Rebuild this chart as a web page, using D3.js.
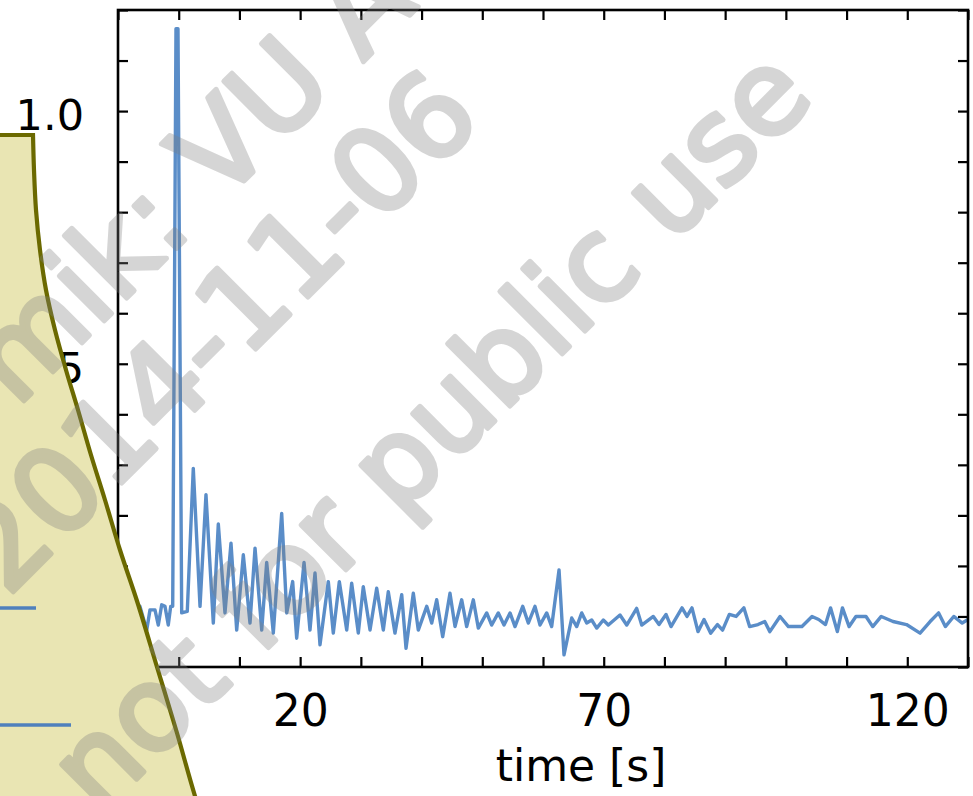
<!DOCTYPE html>
<html>
<head>
<meta charset="utf-8">
<script src="https://cdn.jsdelivr.net/npm/d3@7"></script>
<style>
  html, body { margin: 0; padding: 0; background: #fff; overflow: hidden; }
  svg { display: block; }
</style>
</head>
<body>
<svg id="chart" width="973" height="796"></svg>
<script>
// Recorded signal: time in seconds and normalised amplitude
const timeS = [
  -10.00, -9.30, -8.50, -7.80, -7.10, -6.38, -5.27, -4.73, -3.91, -3.36,
  -2.80, -2.26, -1.72, -1.32, -0.99, -0.45, -0.12, 0.49, 1.41, 2.40,
  3.51, 4.49, 5.70, 6.52, 7.62, 8.61, 9.55, 10.64, 11.74, 12.57,
  13.67, 14.49, 15.58, 16.96, 17.79, 18.77, 19.43, 20.64, 21.62, 22.45,
  23.27, 24.64, 25.46, 26.45, 27.67, 28.49, 29.58, 30.40, 31.51, 32.61,
  33.70, 34.52, 35.62, 36.73, 37.44, 38.64, 39.46, 40.85, 41.67, 42.49,
  43.48, 44.68, 45.51, 46.61, 47.43, 48.52, 49.35, 50.73, 51.55, 52.64,
  53.58, 54.57, 55.39, 56.66, 57.58, 58.68, 59.51, 60.61, 61.43, 62.64,
  63.46, 64.73, 65.55, 66.38, 67.20, 68.02, 68.85, 69.93, 70.76, 72.68,
  73.79, 75.43, 76.26, 78.17, 79.11, 80.26, 81.09, 82.90, 83.72, 84.54,
  85.53, 86.52, 87.62, 88.74, 89.58, 90.69, 91.81, 93.08, 94.03, 95.41,
  96.52, 97.36, 99.04, 100.42, 102.65, 104.31, 105.41, 106.53, 107.37, 108.48,
  109.32, 110.42, 111.54, 113.20, 114.31, 115.71, 117.65, 119.87, 122.10, 123.76,
  125.16, 126.27, 127.65, 129.05, 130.00
];
const signal = [
  0.010, -0.020, 0.018, -0.022, 0.015, 0.020, -0.027, 0.013, 0.013, -0.017,
  0.023, 0.020, -0.017, 0.020, 0.020, 1.163, 1.163, 0.007, 0.010, 0.293,
  0.020, 0.241, -0.013, 0.183, 0.007, 0.145, -0.027, 0.122, -0.013, 0.135,
  -0.027, 0.107, -0.033, 0.204, 0.007, 0.069, -0.043, 0.107, -0.027, 0.086,
  -0.056, 0.069, -0.033, 0.069, -0.027, 0.066, -0.033, 0.059, -0.027, 0.056,
  -0.027, 0.049, -0.033, 0.043, -0.063, 0.046, -0.027, 0.020, -0.013, 0.033,
  -0.040, 0.046, -0.020, 0.033, -0.020, 0.033, -0.023, 0.007, -0.017, 0.007,
  -0.017, 0.007, -0.020, 0.020, -0.013, 0.020, -0.017, 0.007, -0.020, 0.092,
  -0.076, -0.003, -0.020, 0.007, -0.013, -0.007, -0.023, -0.007, -0.017, 0.003,
  -0.017, 0.016, -0.017, 0.000, -0.016, 0.004, -0.020, 0.017, 0.000, 0.017,
  -0.030, -0.006, -0.033, -0.016, -0.027, 0.004, 0.000, 0.017, -0.020, -0.016,
  -0.010, -0.030, 0.000, -0.020, -0.020, 0.000, -0.006, -0.016, 0.017, -0.030,
  0.017, -0.020, 0.000, 0.000, -0.020, 0.000, -0.010, -0.016, -0.033, -0.010,
  0.007, -0.020, 0.000, -0.013, -0.006
];

const xTickValues = d3.range(-10, 131, 10);
const xTickLabels = [20, 70, 120];
const yTickValues = d3.range(-1, 13).map(i => i / 10);
const yTickLabels = [0.0, 0.5, 1.0];
const xTitle = "time [s]";
const watermarkLines = ["mik: VU A", "2014-11-06", "not for public use"];

const FONT = "DejaVu Sans";
const svg = d3.select("#chart");
svg.append("rect").attr("width", 973).attr("height", 796).attr("fill", "#ffffff");

const plot = { left: 118, right: 968, top: 10, bottom: 667 };
const x = d3.scaleLinear().domain([-10, 130]).range([plot.left, plot.right]);
const y = d3.scaleLinear().domain([-0.1, 1.2]).range([plot.bottom, plot.top]);

// clip for the trace
svg.append("clipPath").attr("id", "plotClip")
  .append("rect")
  .attr("x", plot.left).attr("y", plot.top)
  .attr("width", plot.right - plot.left).attr("height", plot.bottom - plot.top);

const points = timeS.map((t, i) => [t, signal[i]]);
const line = d3.line().x(d => x(d[0])).y(d => y(d[1]));

svg.append("path")
  .datum(points)
  .attr("clip-path", "url(#plotClip)")
  .attr("d", line)
  .attr("fill", "none")
  .attr("stroke", "#5a8dc8")
  .attr("stroke-width", 3.4)
  .attr("stroke-linejoin", "round");

// axes: ticks point into the plot on all four sides
const tickLen = 10;
const fmtY = d3.format(".1f");
const isXLabel = v => xTickLabels.some(l => Math.abs(l - v) < 1e-9);
const isYLabel = v => yTickLabels.some(l => Math.abs(l - v) < 1e-9);

const axisStyle = g => {
  g.select(".domain").remove();
  g.selectAll(".tick line").attr("stroke", "#000").attr("stroke-width", 2.2);
  g.selectAll("text").attr("font-family", FONT).attr("fill", "#000");
};

svg.append("g")
  .attr("transform", `translate(0,${plot.bottom})`)
  .call(d3.axisBottom(x).tickValues(xTickValues).tickSize(-tickLen).tickPadding(28)
        .tickFormat(v => isXLabel(v) ? String(v) : ""))
  .call(axisStyle)
  .call(g => g.selectAll("text").attr("font-size", 44).attr("dy", "0.71em"));

svg.append("g")
  .attr("transform", `translate(0,${plot.top})`)
  .call(d3.axisTop(x).tickValues(xTickValues).tickSize(-tickLen).tickFormat(""))
  .call(axisStyle);

svg.append("g")
  .attr("transform", `translate(${plot.left},0)`)
  .call(d3.axisLeft(y).tickValues(yTickValues).tickSize(-tickLen).tickPadding(34)
        .tickFormat(v => isYLabel(v) ? fmtY(v) : ""))
  .call(axisStyle)
  .call(g => g.selectAll("text").attr("font-size", 43).attr("dy", "0.43em"));

svg.append("g")
  .attr("transform", `translate(${plot.right},0)`)
  .call(d3.axisRight(y).tickValues(yTickValues).tickSize(-tickLen).tickFormat(""))
  .call(axisStyle);

// frame
svg.append("rect")
  .attr("x", plot.left).attr("y", plot.top)
  .attr("width", plot.right - plot.left).attr("height", plot.bottom - plot.top)
  .attr("fill", "none").attr("stroke", "#000").attr("stroke-width", 2.6);

svg.append("text")
  .attr("x", 581).attr("y", 781)
  .attr("text-anchor", "middle")
  .attr("font-family", FONT).attr("font-size", 44)
  .text(xTitle);

// overlapping callout shape on the left
const calloutEdge = [
  [33, 135], [34, 170], [36, 210], [40, 250], [46, 290], [55, 330], [66, 370],
  [78, 410], [91, 455], [105, 500], [120, 550], [137, 601], [157, 667],
  [177, 733], [195, 796], [200, 812]
];
const edgeLine = d3.line().curve(d3.curveMonotoneY);
svg.append("path")
  .attr("d", "M-10,135L" + edgeLine(calloutEdge).slice(1) + "L-10,812Z")
  .attr("fill", "#e9e5b3")
  .attr("stroke", "#6b6900")
  .attr("stroke-width", 4.2)
  .attr("stroke-linejoin", "miter");

svg.append("line").attr("x1", -5).attr("x2", 36).attr("y1", 608).attr("y2", 608)
  .attr("stroke", "#4f80bd").attr("stroke-width", 3.5);
svg.append("line").attr("x1", -5).attr("x2", 71).attr("y1", 725).attr("y2", 725)
  .attr("stroke", "#4f80bd").attr("stroke-width", 3.5);

// watermark, drawn as one translucent layer so outlines and fills blend evenly
const wmStarts = [[16.6, 408.3], [7.2, 597.7], [99.1, 816.8]];
const wm = svg.append("g").attr("pointer-events", "none").attr("opacity", 0.32);
watermarkLines.forEach((txt, i) => {
  wm.append("text")
    .attr("transform", `translate(${wmStarts[i][0]},${wmStarts[i][1]}) rotate(-45)`)
    .attr("font-family", FONT)
    .attr("font-size", 116)
    .attr("fill", "#7f7f7f")
    .attr("stroke", "#7f7f7f")
    .attr("stroke-width", 5)
    .attr("stroke-linejoin", "round")
    .text(txt);
});
</script>
</body>
</html>
